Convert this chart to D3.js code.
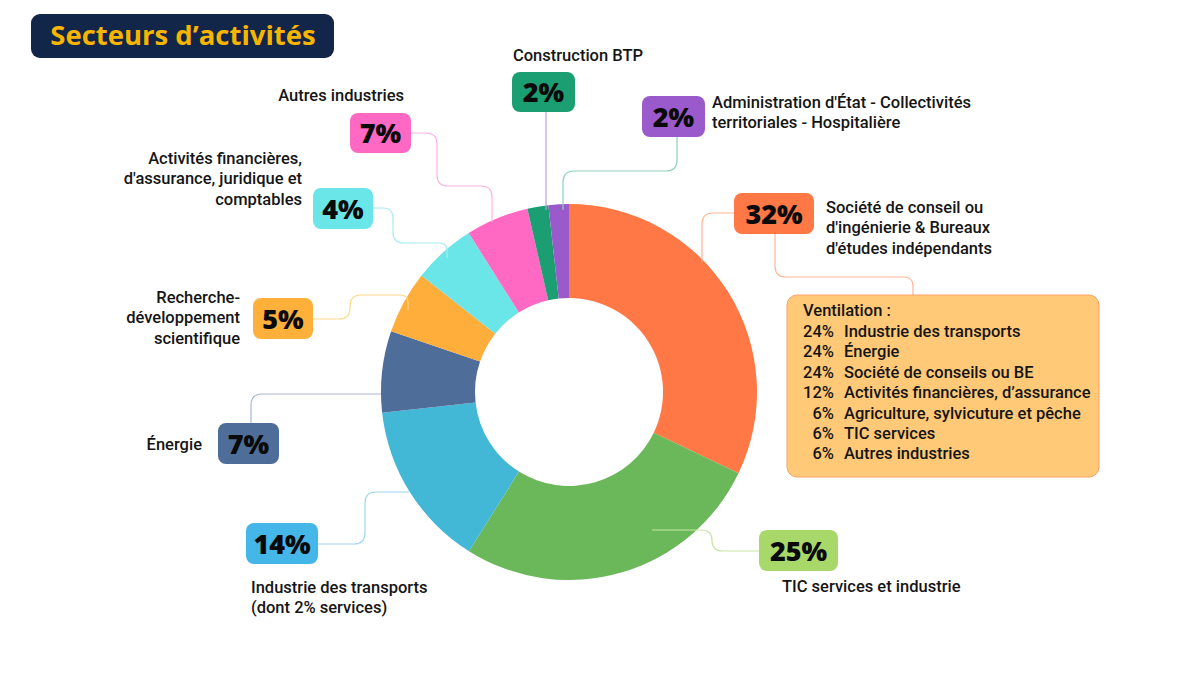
<!DOCTYPE html>
<html>
<head>
<meta charset="utf-8">
<script src="https://cdn.jsdelivr.net/npm/d3@7"></script>
<style>
  body { margin: 0; background: #fff; }
  svg { display: block; }
  .lbl { font-family: Roboto, "Noto Sans", sans-serif; font-size: 16.5px; font-weight: 500; fill: #151515; }
  .pct { font-family: "Open Sans", sans-serif; font-size: 27px; font-weight: 800; fill: #0a0a0a; }
</style>
</head>
<body>
<script>
// secteurs, dans l'ordre du donut (sens horaire depuis midi)
var sectors = ["Société de conseil", "TIC services", "Industrie des transports", "Énergie",
  "Recherche-développement", "Activités financières", "Autres industries", "Construction BTP", "Administration"];
var pctLabels = [32, 25, 14, 7, 5, 4, 7, 2, 2];
// taille des parts (en %)
var shares = [32.1, 26.8, 14.3, 7.0, 5.4, 5.4, 5.4, 1.8, 1.75];
var sliceColors = ["#ff7845", "#6bb85a", "#42b8d6", "#4e6e99", "#ffad3b", "#6ae5e8", "#ff69c4", "#1a9e72", "#9b5acb"];
var boxColors = ["#ff7845", "#a8d86a", "#45b6e8", "#4e6e99", "#ffb03b", "#6ae5e8", "#ff69c4", "#1a9e72", "#9b5acb"];
var lineColors = ["#ffb596", "#c5e5a5", "#9fd6f0", "#a9b7cc", "#ffd98a", "#a6edf0", "#ffb3df", "#c39be0", "#8fd3bb"];

var ventPct = ["24%", "24%", "24%", "12%", "6%", "6%", "6%"];
var ventLabels = ["Industrie des transports", "Énergie", "Société de conseils ou BE",
  "Activités financières, d’assurance", "Agriculture, sylvicuture et pêche", "TIC services", "Autres industries"];

var w = 1200, h = 675;
var cx = 569, cy = 392, outerR = 188, innerR = 94;

var svg = d3.select("body").append("svg")
  .attr("width", w)
  .attr("height", h);

// titre
svg.append("rect")
  .attr("x", 31).attr("y", 14).attr("width", 303).attr("height", 44)
  .attr("rx", 9)
  .attr("fill", "#12264a");
svg.append("text")
  .attr("x", 183).attr("y", 45)
  .attr("text-anchor", "middle")
  .style("font-family", "'Open Sans', sans-serif")
  .style("font-size", "27.5px")
  .style("font-weight", 700)
  .style("fill", "#f7b500")
  .text("Secteurs d’activités");

// donut
var pie = d3.pie().sort(null).value(function (d) { return d; });
var arc = d3.arc().innerRadius(innerR).outerRadius(outerR);
var arcs = pie(shares);

var g = svg.append("g").attr("transform", "translate(" + [cx, cy] + ")");
g.selectAll("path")
  .data(arcs)
  .enter().append("path")
  .attr("d", arc)
  .attr("fill", function (d, i) { return sliceColors[i]; });

// mise en page des annotations
var layout = [
  { box: [734, 193, 80, 41], line: [[734, 213], [702, 213], [702, 262]],
    text: ["Société de conseil ou", "d'ingénierie & Bureaux", "d'études indépendants"], tx: 826, ty: 213, anchor: "start" },
  { box: [759, 530, 79, 41], line: [[759, 551], [712, 551], [712, 530], [652, 530]],
    text: ["TIC services et industrie"], tx: 782, ty: 592, anchor: "start" },
  { box: [246, 523, 72, 41], line: [[317, 544], [365, 544], [365, 492], [409, 492]],
    text: ["Industrie des transports", "(dont 2% services)"], tx: 251, ty: 593, anchor: "start" },
  { box: [218, 423, 61, 41], line: [[251, 423], [251, 394], [381, 394]],
    text: ["Énergie"], tx: 202, ty: 450, anchor: "end" },
  { box: [253, 298, 60, 41], line: [[313, 319], [350, 319], [350, 295], [408, 295], [408, 310]],
    text: ["Recherche-", "développement", "scientifique"], tx: 240, ty: 303, anchor: "end" },
  { box: [313, 188, 60, 41], line: [[373, 208], [393, 208], [393, 243], [447, 243], [447, 258]],
    text: ["Activités financières,", "d'assurance, juridique et", "comptables"], tx: 302, ty: 164, anchor: "end" },
  { box: [350, 113, 61, 40], line: [[411, 133], [437, 133], [437, 186], [492, 186], [492, 222]],
    text: ["Autres industries"], tx: 404, ty: 101, anchor: "end" },
  { box: [512, 72, 63, 40], line: [[546, 112], [546, 210]],
    text: ["Construction BTP"], tx: 578, ty: 61, anchor: "middle" },
  { box: [642, 96, 63, 41], line: [[677, 137], [677, 171], [563, 171], [563, 210]],
    text: ["Administration d'État - Collectivités", "territoriales - Hospitalière"], tx: 712, ty: 108, anchor: "start" }
];

// polyligne avec coins arrondis
function rounded(pts, r) {
  var p = "M" + pts[0][0] + "," + pts[0][1];
  for (var i = 1; i < pts.length - 1; i++) {
    var a = pts[i - 1], b = pts[i], c = pts[i + 1];
    var l1 = Math.hypot(b[0] - a[0], b[1] - a[1]), l2 = Math.hypot(c[0] - b[0], c[1] - b[1]);
    var rr = Math.min(r, l1 / 2, l2 / 2);
    var p1 = [b[0] - (b[0] - a[0]) / l1 * rr, b[1] - (b[1] - a[1]) / l1 * rr];
    var p2 = [b[0] + (c[0] - b[0]) / l2 * rr, b[1] + (c[1] - b[1]) / l2 * rr];
    p += "L" + p1 + "Q" + b + "," + p2;
  }
  var e = pts[pts.length - 1];
  return p + "L" + e[0] + "," + e[1];
}

var ann = svg.append("g");
ann.selectAll("path.conn")
  .data(layout)
  .enter().append("path")
  .attr("class", "conn")
  .attr("d", function (d) { return rounded(d.line, 11); })
  .attr("fill", "none")
  .attr("stroke", function (d, i) { return lineColors[i]; })
  .attr("stroke-width", 1.2);

// lien 32% -> ventilation
ann.append("path")
  .attr("d", rounded([[775, 234], [775, 277], [913, 277], [913, 295]], 11))
  .attr("fill", "none")
  .attr("stroke", lineColors[0])
  .attr("stroke-width", 1.2);

var boxes = ann.selectAll("g.box")
  .data(layout)
  .enter().append("g")
  .attr("class", "box");
boxes.append("rect")
  .attr("x", function (d) { return d.box[0]; })
  .attr("y", function (d) { return d.box[1]; })
  .attr("width", function (d) { return d.box[2]; })
  .attr("height", function (d) { return d.box[3]; })
  .attr("rx", 8)
  .attr("fill", function (d, i) { return boxColors[i]; });
boxes.append("text")
  .attr("class", "pct")
  .attr("x", function (d) { return d.box[0] + d.box[2] / 2; })
  .attr("y", function (d) { return d.box[1] + d.box[3] / 2 + 10; })
  .attr("text-anchor", "middle")
  .text(function (d, i) { return pctLabels[i] + "%"; });

boxes.append("text")
  .attr("class", "lbl")
  .attr("text-anchor", function (d) { return d.anchor; })
  .selectAll("tspan")
  .data(function (d) { return d.text.map(function (t) { return { t: t, d: d }; }); })
  .enter().append("tspan")
  .attr("x", function (e) { return e.d.tx; })
  .attr("y", function (e, j) { return e.d.ty + j * 20.3; })
  .text(function (e) { return e.t; });

// encadré ventilation
var vb = svg.append("g");
vb.append("rect")
  .attr("x", 787).attr("y", 295).attr("width", 312).attr("height", 182)
  .attr("rx", 10)
  .attr("fill", "#ffc978")
  .attr("stroke", "#ffa066")
  .attr("stroke-width", 1);
vb.append("text")
  .attr("class", "lbl")
  .attr("x", 803).attr("y", 316)
  .text("Ventilation :");
vb.selectAll("text.vp")
  .data(ventPct)
  .enter().append("text")
  .attr("class", "lbl vp")
  .attr("x", 834)
  .attr("y", function (d, i) { return 337 + i * 20.4; })
  .attr("text-anchor", "end")
  .text(function (d) { return d; });
vb.selectAll("text.vl")
  .data(ventLabels)
  .enter().append("text")
  .attr("class", "lbl vl")
  .attr("x", 844)
  .attr("y", function (d, i) { return 337 + i * 20.4; })
  .text(function (d) { return d; });
</script>
</body>
</html>
